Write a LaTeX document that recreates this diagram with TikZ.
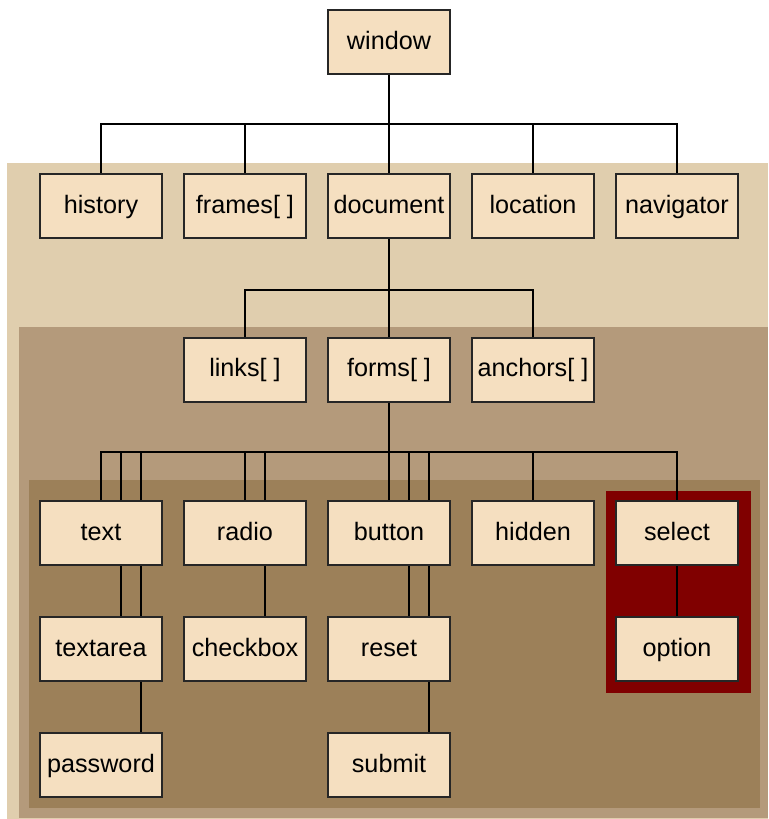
\documentclass[tikz,border=0pt]{standalone}
\usepackage{fontspec}
\setmainfont{Liberation Sans}
\definecolor{paneA}{HTML}{E0CEAE}
\definecolor{paneB}{HTML}{B49A7B}
\definecolor{paneC}{HTML}{9C8059}
\definecolor{paneSel}{HTML}{800000}
\definecolor{boxfill}{HTML}{F5DFC0}
\tikzset{
  obj/.style={draw=black!85, line width=1pt, fill=boxfill, minimum width=61pt,
    minimum height=32pt, inner sep=0pt, text height=9.5pt, text depth=2.1pt,
    font=\fontsize{12.6}{15}\selectfont},
  link/.style={line width=0.75pt}
}

\begin{document}
\begin{tikzpicture}[x=0.5pt,y=-0.5pt]
\useasboundingbox (0,0) rectangle (768,819);
% nested panes
\fill[paneA] (7,163) rectangle (768,819);
\fill[paneB] (19,327) rectangle (768,818);
\fill[paneC] (29,480) rectangle (760,808);
\fill[paneSel] (606,491) rectangle (751,693);

% window and its children
\node[obj] (window) at (389,42) {window};
\node[obj] (history) at (101,206) {history};
\node[obj] (frames) at (245,206) {frames[ ]};
\node[obj] (document) at (389,206) {document};
\node[obj] (location) at (533,206) {location};
\node[obj] (navigator) at (677,206) {navigator};

% document children
\node[obj] (links) at (245,369.5) {links[ ]};
\node[obj] (forms) at (389,369.5) {forms[ ]};
\node[obj] (anchors) at (533,369.5) {anchors[ ]};

% form elements
\node[obj] (text) at (101,533) {text};
\node[obj] (radio) at (245,533) {radio};
\node[obj] (button) at (389,533) {button};
\node[obj] (hidden) at (533,533) {hidden};
\node[obj] (select) at (677,533) {select};
\node[obj] (textarea) at (101,649) {textarea};
\node[obj] (checkbox) at (245,649) {checkbox};
\node[obj] (reset) at (389,649) {reset};
\node[obj] (option) at (677,649) {option};
\node[obj] (password) at (101,765) {password};
\node[obj] (submit) at (389,765) {submit};

% window bus
\coordinate (wbus) at (389,124);
\draw[link] (window.south) -- (wbus);
\draw[link] (history.north) |- (wbus) -| (navigator.north);
\foreach \n in {frames,document,location}
  \draw[link] (\n.north) |- (wbus);

% document bus
\coordinate (dbus) at (389,290);
\draw[link] (document.south) -- (dbus);
\draw[link] (links.north) |- (dbus) -| (anchors.north);
\draw[link] (forms.north) -- (dbus);

% forms bus
\coordinate (fbus) at (389,452);
\draw[link] (forms.south) -- (fbus);
\draw[link] (text.north) |- (fbus) -| (select.north);
\foreach \n/\s in {text/20,text/40,radio/0,radio/20,button/0,button/20,button/40,hidden/0}
  \draw[link] ([shift={(\s,0)}]\n.north) |- (fbus);

% inheritance lines
\foreach \a/\b/\s in {text/textarea/20,text/textarea/40,textarea/password/40,
    radio/checkbox/20,button/reset/20,button/reset/40,reset/submit/40,select/option/0}
  \draw[link] ([shift={(\s,0)}]\a.south) -- ([shift={(\s,0)}]\b.north);
\end{tikzpicture}
\end{document}
